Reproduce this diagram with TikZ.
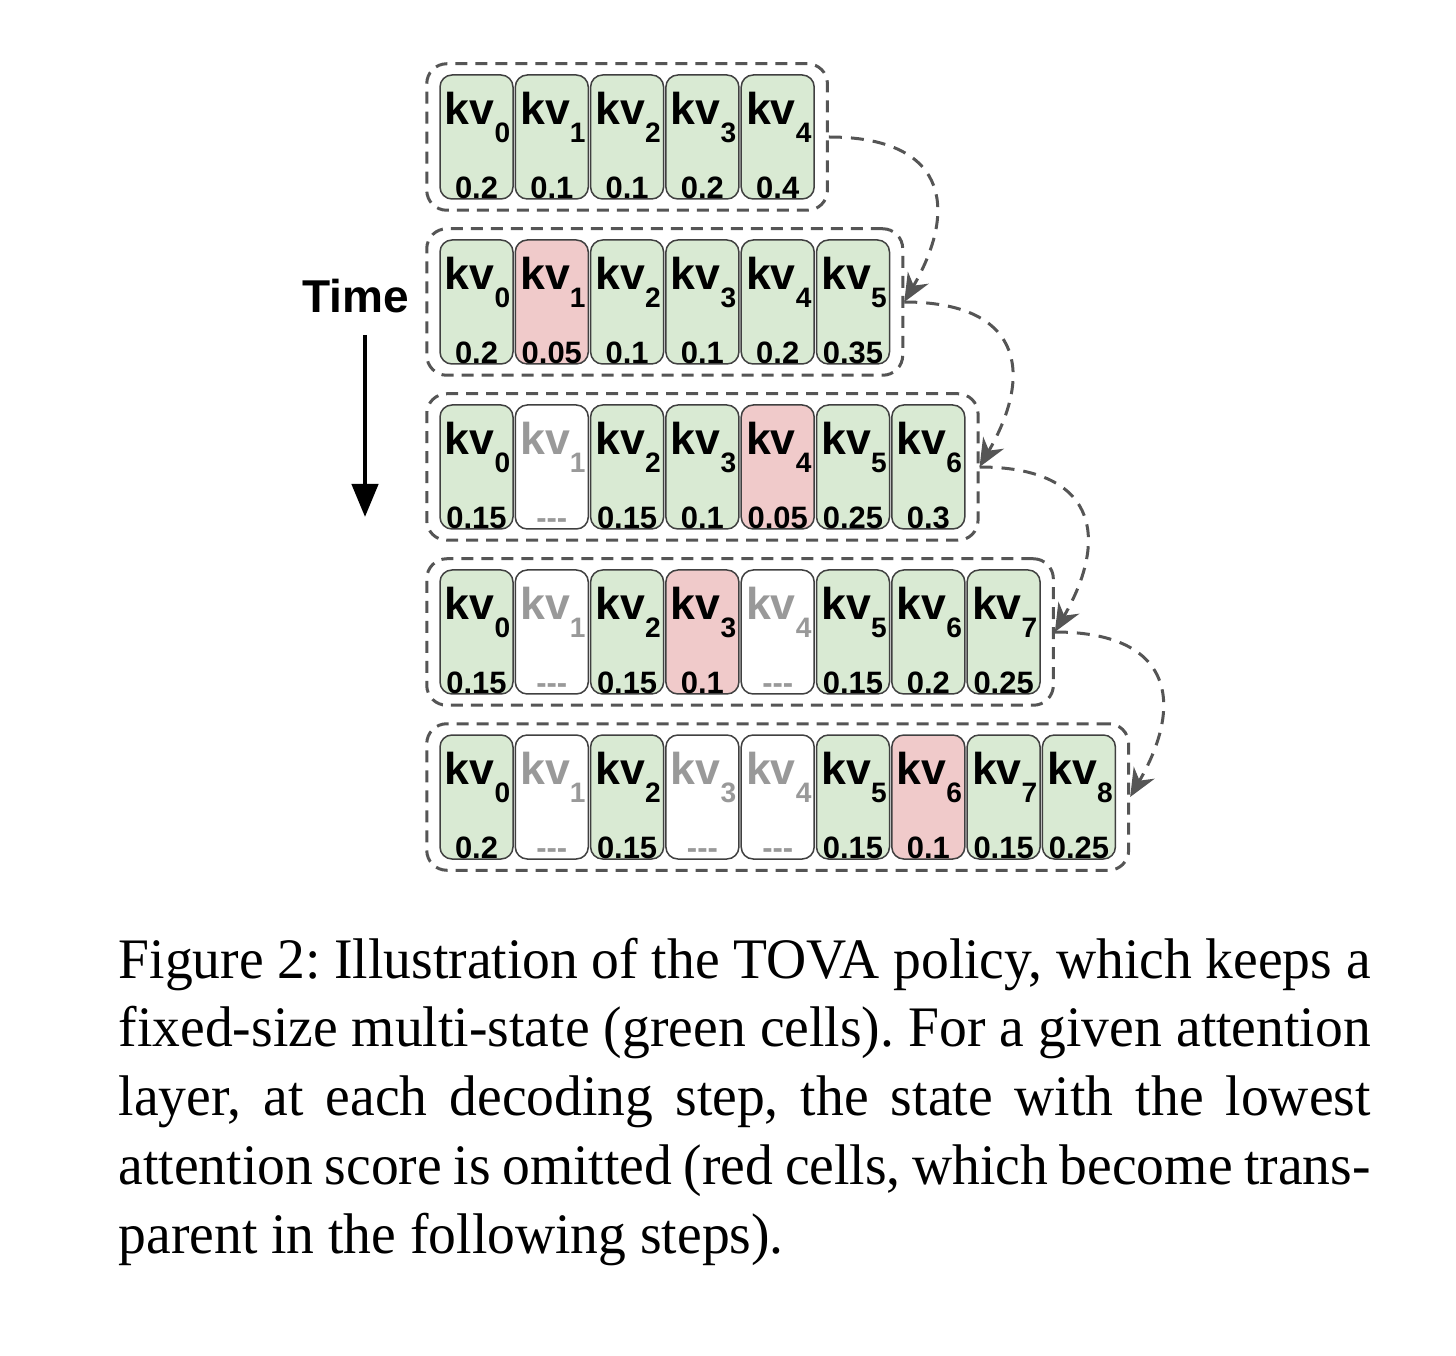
\documentclass[tikz,border=0pt]{standalone}
\usepackage{fontspec}
\setmainfont[FakeStretch=0.97, WordSpace={1,1,2}]{Liberation Serif}
\newfontfamily\cellfont{Liberation Sans}
\usetikzlibrary{calc,fit,arrows.meta}

\definecolor{keepgreen}{HTML}{D9EAD3}
\definecolor{dropred}{HTML}{F0CACA}
\definecolor{boxgray}{HTML}{555555}

% kv 加下标
\newcommand{\kvname}[1]{kv\raisebox{-1.8mm}{\fontsize{8pt}{8pt}\selectfont #1}}

\begin{document}
\begin{tikzpicture}[x=0.1mm, y=-0.1mm,
    cell/.style={draw=black!75, line width=0.15mm, rounded corners=1.2mm,
        minimum width=7.3mm, minimum height=12.4mm, inner sep=0},
    keep/.style={cell, fill=keepgreen},
    drop/.style={cell, fill=dropred},
    gone/.style={cell, fill=white},
    kvlab/.style={inner sep=0, font={\cellfont\bfseries\fontsize{12.7pt}{14pt}\selectfont}},
    scorelab/.style={inner sep=0, font={\cellfont\bfseries\fontsize{8.8pt}{9pt}\selectfont}},
    keeplab/.style={text=black},
    droplab/.style={text=black},
    gonelab/.style={text=black!40},
    box/.style={draw=boxgray, line width=0.3mm, dash pattern=on 1.2mm off 0.8mm,
        rounded corners=2mm, inner xsep=1.25mm, inner ysep=1.05mm},
    flow/.style={draw=boxgray, line width=0.3mm, dash pattern=on 1.3mm off 0.9mm,
        -{Stealth[length=2.8mm,width=2.4mm]}}
]

\useasboundingbox (0,0) rectangle (1456,1356);

% 每一行: 行号/最后一个格子/格子列表
\foreach \row/\last/\cells in {
    0/4/{keep/0.2,keep/0.1,keep/0.1,keep/0.2,keep/0.4},
    1/5/{keep/0.2,drop/0.05,keep/0.1,keep/0.1,keep/0.2,keep/0.35},
    2/6/{keep/0.15,gone/-{}-{}-,keep/0.15,keep/0.1,drop/0.05,keep/0.25,keep/0.3},
    3/7/{keep/0.15,gone/-{}-{}-,keep/0.15,drop/0.1,gone/-{}-{}-,keep/0.15,keep/0.2,keep/0.25},
    4/8/{keep/0.2,gone/-{}-{}-,keep/0.15,gone/-{}-{}-,gone/-{}-{}-,keep/0.15,drop/0.1,keep/0.15,keep/0.25}} {
    \foreach \kind/\score [count=\i from 0] in \cells {
        \pgfmathsetmacro{\cx}{476.5+75.3*\i}
        \pgfmathsetmacro{\cy}{137+165*\row}
        \node[\kind] (c\row-\i) at (\cx,\cy) {};
        \node[kvlab, \kind lab, anchor=base west] (l\row-\i) at ($(c\row-\i.north west)+(5,50)$) {\kvname{\i}};
        \node[scorelab, \kind lab, anchor=base] (s\row-\i) at ($(c\row-\i.south)+(0,-1.5)$) {\score};
    }
    \node[box, fit=(c\row-0)(c\row-\last)] (box\row) {};
}

% 行与行之间的虚线箭头
\foreach \a [evaluate=\a as \b using int(\a+1)] in {0,...,3} {
    \draw[flow] (box\a.east) to[out=0, in=60, looseness=1.6] (box\b.east);
}

% 时间轴
\node[inner sep=0, anchor=base, font={\cellfont\bfseries\fontsize{13.1pt}{14pt}\selectfont}] (time) at (356,313) {Time};
\coordinate (tstart) at (365,335);
\coordinate (tend) at (365,517);
\draw[line width=0.45mm, -{Triangle[length=3.3mm,width=2.6mm]}] (tstart) -- (tend);

% 图注
\node[inner sep=0, anchor=base west] (caption) at (118,978) {\parbox[t]{125.2mm}{\fontsize{16.3pt}{19.6pt}\selectfont
\frenchspacing\hyphenpenalty=10000 \emergencystretch=2em
Figure 2: Illustration of the TOVA policy, which keeps a\linebreak
fixed-size multi-state (green cells). For a given attention\linebreak
layer, at each decoding step, the state with the lowest\linebreak
attention score is omitted (red cells, which become trans-\linebreak
parent in the following steps).}};

\end{tikzpicture}
\end{document}
